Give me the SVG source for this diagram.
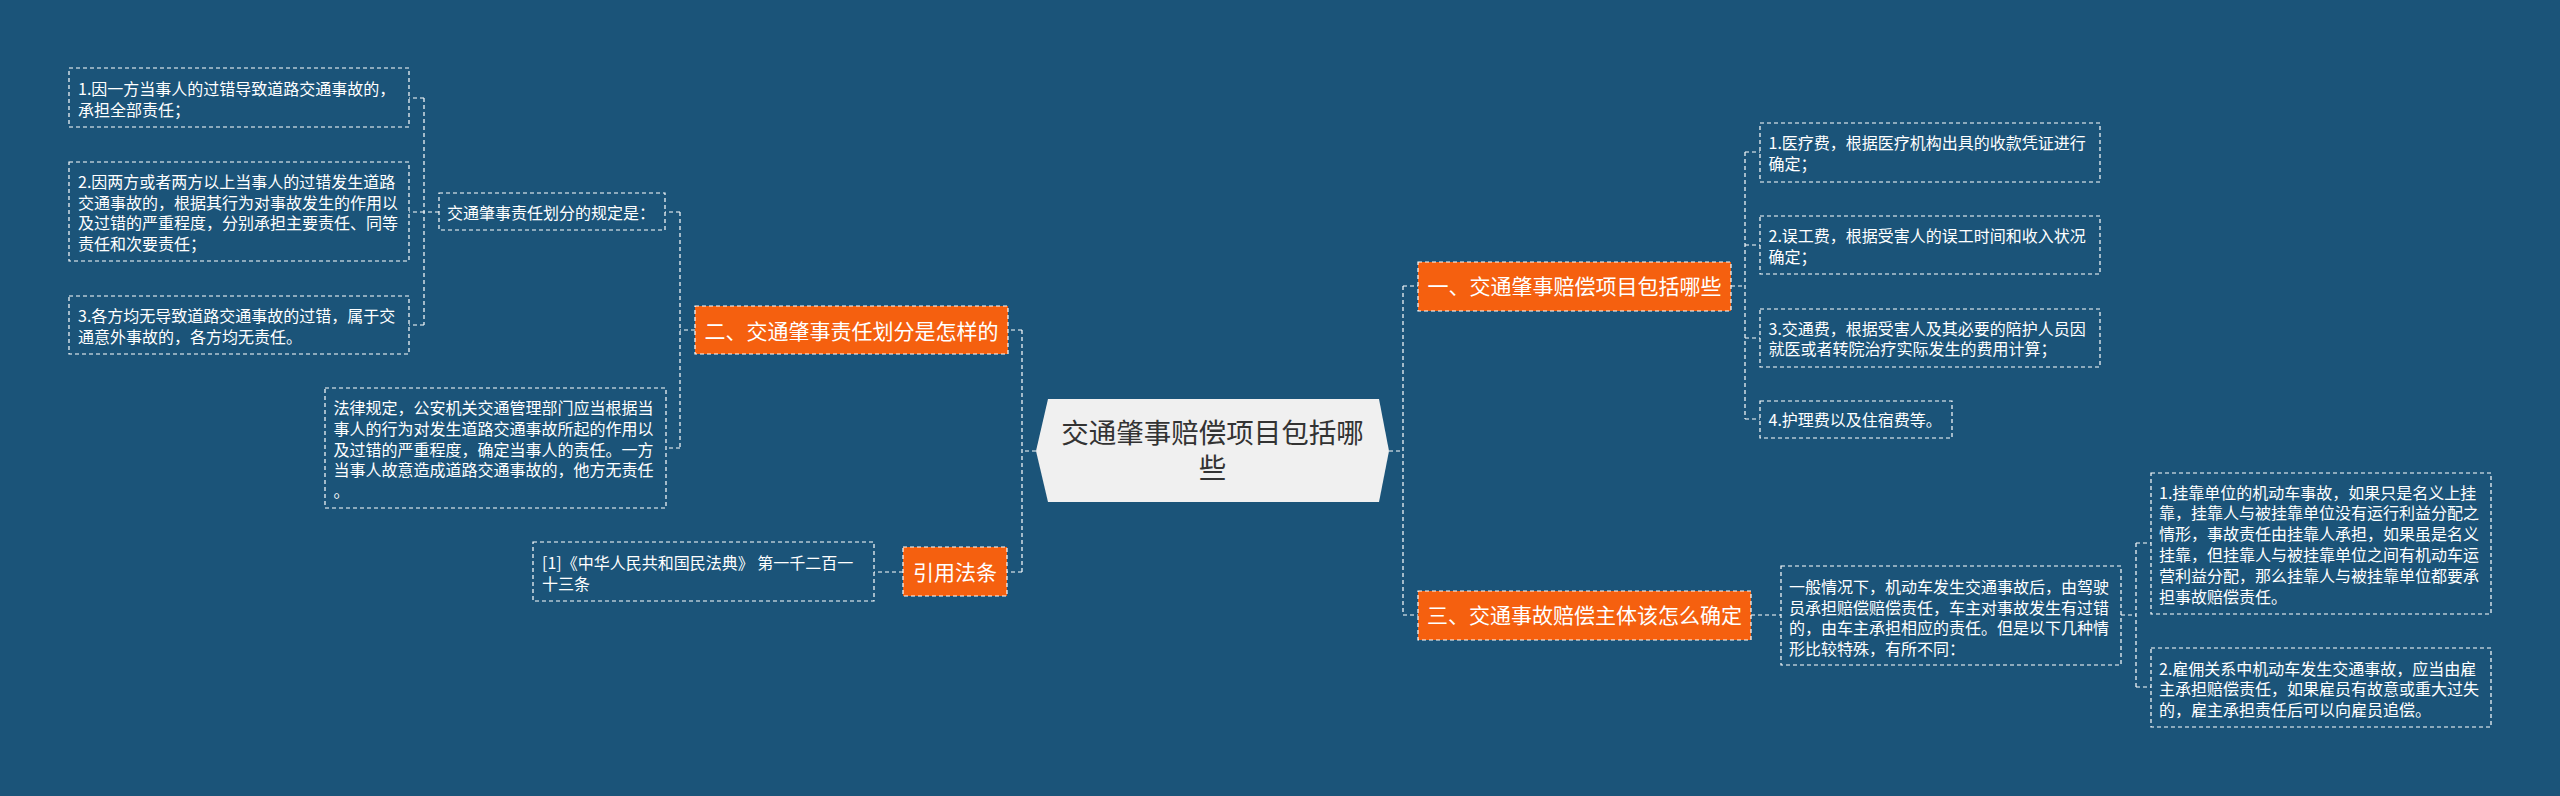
<svg xmlns="http://www.w3.org/2000/svg" width="2560" height="796" viewBox="0 0 2560 796">
<style>
.bx{fill:none;stroke:#ffffff;stroke-width:1.2;stroke-dasharray:4 3}
.ob{fill:#f5600f;stroke:#ffffff;stroke-width:1.2;stroke-dasharray:4 3}
.cn{fill:none;stroke:#ffffff;stroke-width:1.2;stroke-dasharray:4 3}
.t{font-family:"Noto Sans CJK SC","Noto Sans",sans-serif;font-size:16px;fill:#ffffff}
.ot{font-family:"Noto Sans CJK SC","Noto Sans",sans-serif;font-size:21px;fill:#ffffff;text-anchor:middle}
.ct{font-family:"Noto Sans CJK SC","Noto Sans",sans-serif;font-size:27.5px;fill:#333333;text-anchor:middle}
</style>
<rect x="0" y="0" width="2560" height="796" fill="#1b5479"/>
<g id="connectors">
<path class="cn" d="M1036 451 H1022 M1022 330 V572 M1022 330 H1008 M1022 572 H1007"/>
<path class="cn" d="M695 330 H680 M680 212 V448 M680 212 H665 M680 448 H666"/>
<path class="cn" d="M439 212 H424 M424 98 V325 M424 98 H409 M424 212 H409 M424 325 H409"/>
<path class="cn" d="M903 572 H874"/>
<path class="cn" d="M1389 451 H1403 M1403 286 V615 M1403 286 H1418 M1403 615 H1418"/>
<path class="cn" d="M1731 286 H1745 M1745 152 V419 M1745 152 H1760 M1745 245 H1760 M1745 338 H1760 M1745 419 H1760"/>
<path class="cn" d="M1751 615 H1781"/>
<path class="cn" d="M2121 615 H2136 M2136 543 V687 M2136 543 H2151 M2136 687 H2151"/>
</g>
<g id="center">
<polygon points="1048,399 1379,399 1389,451 1379,502 1048,502 1036,451" fill="#f0f0f0"/>
<text class="ct" x="1212.5" y="443">交通肇事赔偿项目包括哪</text>
<text class="ct" x="1212.5" y="478">些</text>
</g>
<g id="n-left-main">
<rect class="ob" x="695" y="306" width="313" height="48"/>
<text class="ot" x="851.5" y="339">二、交通肇事责任划分是怎样的</text>
</g>
<g id="n-rule">
<rect class="bx" x="439" y="193" width="226" height="37"/>
<text class="t" x="447" y="218.5">交通肇事责任划分的规定是：</text>
</g>
<g id="n-l1">
<rect class="bx" x="69" y="68" width="340" height="59"/>
<text class="t" x="78" y="95">1.因一方当事人的过错导致道路交通事故的，</text>
<text class="t" x="78" y="115.5">承担全部责任；</text>
</g>
<g id="n-l2">
<rect class="bx" x="69" y="162" width="340" height="99"/>
<text class="t" x="78" y="188">2.因两方或者两方以上当事人的过错发生道路</text>
<text class="t" x="78" y="208.5">交通事故的，根据其行为对事故发生的作用以</text>
<text class="t" x="78" y="229">及过错的严重程度，分别承担主要责任、同等</text>
<text class="t" x="78" y="249.5">责任和次要责任；</text>
</g>
<g id="n-l3">
<rect class="bx" x="69" y="296" width="340" height="58"/>
<text class="t" x="78" y="322">3.各方均无导致道路交通事故的过错，属于交</text>
<text class="t" x="78" y="342.5">通意外事故的，各方均无责任。</text>
</g>
<g id="n-law">
<rect class="bx" x="325" y="388" width="341" height="120"/>
<text class="t" x="333.5" y="414">法律规定，公安机关交通管理部门应当根据当</text>
<text class="t" x="333.5" y="434.8">事人的行为对发生道路交通事故所起的作用以</text>
<text class="t" x="333.5" y="455.6">及过错的严重程度，确定当事人的责任。一方</text>
<text class="t" x="333.5" y="476.4">当事人故意造成道路交通事故的，他方无责任</text>
<text class="t" x="333.5" y="497.2">。</text>
</g>
<g id="n-cite">
<rect class="ob" x="903" y="547" width="104" height="49"/>
<text class="ot" x="955" y="579.5">引用法条</text>
</g>
<g id="n-ref">
<rect class="bx" x="533" y="542" width="341" height="59"/>
<text class="t" x="542" y="569">[1]《中华人民共和国民法典》 第一千二百一</text>
<text class="t" x="542" y="589.5">十三条</text>
</g>
<g id="n-right1">
<rect class="ob" x="1418" y="262" width="313" height="49"/>
<text class="ot" x="1574.5" y="294">一、交通肇事赔偿项目包括哪些</text>
</g>
<g id="n-r1">
<rect class="bx" x="1760" y="123" width="340" height="59"/>
<text class="t" x="1768.5" y="149">1.医疗费，根据医疗机构出具的收款凭证进行</text>
<text class="t" x="1768.5" y="169.5">确定；</text>
</g>
<g id="n-r2">
<rect class="bx" x="1760" y="216" width="340" height="58"/>
<text class="t" x="1768.5" y="242">2.误工费，根据受害人的误工时间和收入状况</text>
<text class="t" x="1768.5" y="262.5">确定；</text>
</g>
<g id="n-r3">
<rect class="bx" x="1760" y="309" width="340" height="58"/>
<text class="t" x="1768.5" y="334.5">3.交通费，根据受害人及其必要的陪护人员因</text>
<text class="t" x="1768.5" y="355">就医或者转院治疗实际发生的费用计算；</text>
</g>
<g id="n-r4">
<rect class="bx" x="1760" y="401" width="192" height="37"/>
<text class="t" x="1768.5" y="426">4.护理费以及住宿费等。</text>
</g>
<g id="n-right3">
<rect class="ob" x="1418" y="591" width="333" height="49"/>
<text class="ot" x="1584.5" y="623">三、交通事故赔偿主体该怎么确定</text>
</g>
<g id="n-general">
<rect class="bx" x="1781" y="566" width="340" height="99"/>
<text class="t" x="1789" y="593">一般情况下，机动车发生交通事故后，由驾驶</text>
<text class="t" x="1789" y="613.5">员承担赔偿赔偿责任，车主对事故发生有过错</text>
<text class="t" x="1789" y="634">的，由车主承担相应的责任。但是以下几种情</text>
<text class="t" x="1789" y="654.5">形比较特殊，有所不同：</text>
</g>
<g id="n-s1">
<rect class="bx" x="2151" y="473" width="340" height="141"/>
<text class="t" x="2159" y="498.5">1.挂靠单位的机动车事故，如果只是名义上挂</text>
<text class="t" x="2159" y="519.3">靠，挂靠人与被挂靠单位没有运行利益分配之</text>
<text class="t" x="2159" y="540.1">情形，事故责任由挂靠人承担，如果虽是名义</text>
<text class="t" x="2159" y="560.9">挂靠，但挂靠人与被挂靠单位之间有机动车运</text>
<text class="t" x="2159" y="581.7">营利益分配，那么挂靠人与被挂靠单位都要承</text>
<text class="t" x="2159" y="602.5">担事故赔偿责任。</text>
</g>
<g id="n-s2">
<rect class="bx" x="2151" y="648" width="340" height="79"/>
<text class="t" x="2159" y="674.5">2.雇佣关系中机动车发生交通事故，应当由雇</text>
<text class="t" x="2159" y="695">主承担赔偿责任，如果雇员有故意或重大过失</text>
<text class="t" x="2159" y="715.5">的，雇主承担责任后可以向雇员追偿。</text>
</g>
</svg>
